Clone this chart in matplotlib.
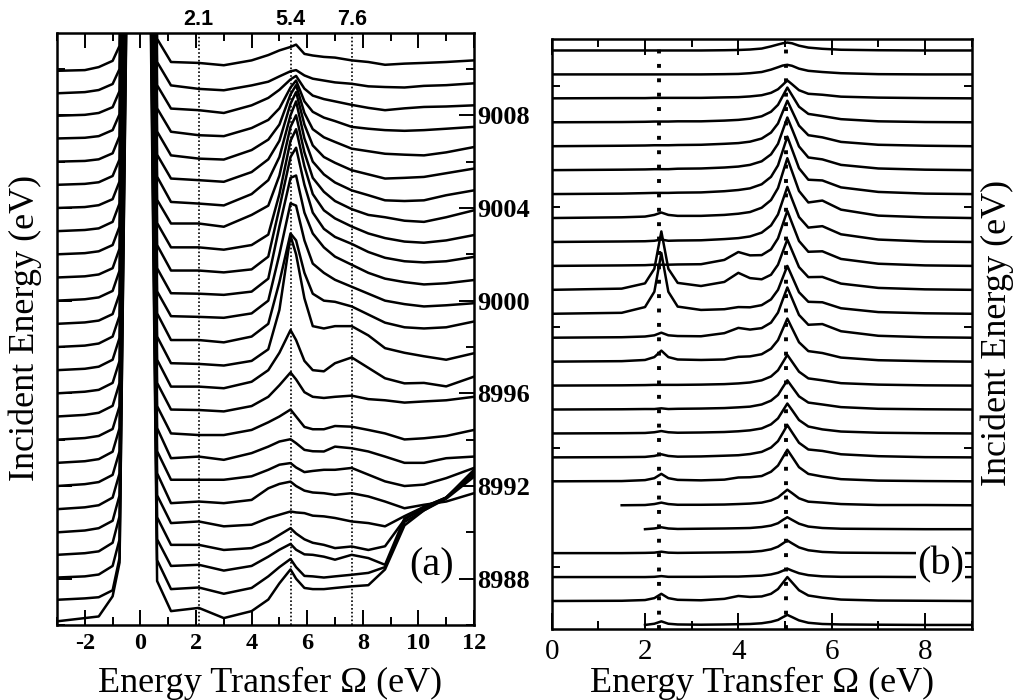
import numpy as np
import matplotlib
matplotlib.use('Agg')
import matplotlib.pyplot as plt
from matplotlib.ticker import MultipleLocator, FixedLocator

nan = np.nan

# incident energies, bottom spectrum first
incident_energy = [8986, 8987, 8988, 8989, 8990, 8991, 8992, 8993, 8994, 8995, 8996, 8997, 8998,
                   8999, 9000, 9001, 9002, 9003, 9004, 9005, 9006, 9007, 9008, 9009, 9010]

# (a) measured spectra, intensity in units of the 1 eV offset
omega_exp = [-3.0, -2.0, -1.5, -1.0, -0.75, -0.15, 0.05, 0.6, 1.1, 2.1, 3.0, 4.0, 4.6, 5.0, 5.4,
             5.6, 5.9, 6.2, 6.6, 7.0, 7.6, 8.2, 8.8, 9.5, 10.2, 11.0, 12.0]
rixs_exp = [
    [0.16, 0.3, 0.37, 1.24, 2.7, 60, 60, 1.9, 0.6, 0.74, 0.3, 0.6, 1.1, 1.8, 2.4, 2.0, 1.6, 1.55, 1.55, 1.6, 1.67, 1.72, 2.4, 4.3, 4.95, 5.5, 6.45],
    [0.09, 0.15, 0.2, 0.5, 1.9, 60, 60, 1.8, 0.55, 0.62, 0.35, 0.6, 1.1, 1.5, 1.85, 1.5, 1.12, 1.1, 1.05, 1.1, 1.17, 1.25, 1.5, 3.45, 3.95, 4.45, 5.4],
    [0.05, 0.1, 0.18, 0.55, 1.7, 60, 60, 1.7, 0.55, 0.6, 0.35, 0.55, 0.95, 1.25, 1.5, 1.25, 1.05, 1.03, 0.95, 0.82, 1.03, 0.89, 0.6, 2.6, 3.0, 3.5, 4.55],
    [0.03, 0.1, 0.18, 0.55, 1.7, 60, 60, 1.65, 0.46, 0.46, 0.24, 0.32, 0.6, 0.89, 1.18, 0.95, 0.7, 0.55, 0.46, 0.32, 0.39, 0.24, 0.4, 1.55, 2.1, 2.5, 3.6],
    [0.0, 0.08, 0.18, 0.5, 1.6, 60, 60, 1.6, 0.4, 0.47, 0.26, 0.33, 0.62, 0.76, 0.9, 0.86, 0.83, 0.72, 0.69, 0.62, 0.47, 0.4, 0.26, 0.7, 1.1, 1.5, 2.7],
    [0.0, 0.08, 0.17, 0.5, 1.55, 60, 60, 1.55, 0.26, 0.33, 0.26, 0.4, 0.9, 1.09, 1.19, 1.0, 0.8, 0.72, 0.69, 0.62, 0.69, 0.55, 0.33, 0.04, 0.19, 0.33, 0.69],
    [0.0, 0.08, 0.17, 0.48, 1.5, 60, 60, 1.5, 0.27, 0.27, 0.27, 0.42, 0.7, 0.92, 0.99, 0.8, 0.6, 0.65, 0.7, 0.7, 0.78, 0.49, 0.2, 0.0, 0.06, 0.34, 0.78],
    [0.0, 0.07, 0.16, 0.48, 1.5, 60, 60, 1.5, 0.2, 0.27, 0.13, 0.42, 0.7, 0.92, 1.02, 0.85, 0.56, 0.5, 0.49, 0.7, 0.63, 0.49, 0.27, 0.0, 0.0, 0.2, 0.27],
    [0.0, 0.07, 0.16, 0.46, 1.45, 60, 60, 1.45, 0.27, 0.2, 0.2, 0.42, 0.75, 1.0, 1.3, 1.0, 0.55, 0.45, 0.45, 0.59, 0.56, 0.42, 0.27, 0.01, 0.06, 0.16, 0.42],
    [0.0, 0.07, 0.16, 0.46, 1.45, 60, 60, 1.45, 0.3, 0.28, 0.22, 0.45, 0.85, 1.35, 1.9, 1.6, 1.05, 0.85, 0.8, 0.85, 0.9, 0.75, 0.7, 0.6, 0.65, 0.7, 0.85],
    [0.0, 0.07, 0.15, 0.45, 1.4, 60, 60, 1.45, 0.29, 0.29, 0.22, 0.5, 1.0, 1.75, 2.73, 2.3, 1.4, 1.0, 0.95, 1.3, 1.55, 1.1, 0.65, 0.43, 0.45, 0.3, 0.72],
    [0.0, 0.06, 0.15, 0.45, 1.4, 60, 60, 1.45, 0.3, 0.27, 0.2, 0.4, 0.9, 2.6, 5.8, 5.0, 3.1, 1.9, 1.8, 1.9, 1.9, 1.5, 0.95, 0.75, 0.6, 0.45, 0.73],
    [0.0, 0.06, 0.15, 0.45, 1.35, 60, 60, 1.45, 0.3, 0.3, 0.2, 0.45, 1.0, 2.8, 4.9, 4.6, 3.2, 2.3, 2.0, 1.95, 1.75, 1.4, 1.05, 0.85, 0.8, 0.85, 1.1],
    [0.0, 0.06, 0.14, 0.42, 1.3, 60, 60, 1.4, 0.33, 0.3, 0.26, 0.45, 1.0, 3.0, 5.2, 5.1, 3.6, 2.6, 2.2, 1.9, 1.6, 1.3, 1.0, 0.85, 0.75, 0.8, 0.89],
    [0.0, 0.06, 0.14, 0.42, 1.3, 60, 60, 1.4, 0.32, 0.3, 0.25, 0.39, 0.95, 3.2, 5.3, 5.4, 3.8, 2.9, 2.3, 1.9, 1.55, 1.2, 0.95, 0.8, 0.7, 0.75, 0.89],
    [0.0, 0.05, 0.13, 0.4, 1.25, 60, 60, 1.4, 0.3, 0.3, 0.22, 0.35, 0.9, 3.0, 5.2, 5.6, 4.0, 2.8, 2.1, 1.75, 1.45, 1.1, 0.85, 0.7, 0.65, 0.7, 0.89],
    [0.0, 0.05, 0.13, 0.4, 1.2, 60, 60, 1.35, 0.3, 0.3, 0.2, 0.4, 0.85, 2.6, 4.9, 5.4, 3.8, 2.6, 1.9, 1.55, 1.2, 0.9, 0.7, 0.55, 0.5, 0.6, 0.83],
    [0.0, 0.05, 0.12, 0.4, 1.2, 60, 60, 1.35, 0.33, 0.33, 0.19, 0.7, 1.1, 2.4, 4.5, 5.0, 3.4, 2.3, 1.7, 1.3, 0.95, 0.7, 0.6, 0.45, 0.4, 0.6, 0.9],
    [0.0, 0.04, 0.12, 0.38, 1.15, 60, 60, 1.35, 0.26, 0.19, 0.11, 0.6, 1.2, 2.2, 4.0, 4.6, 3.0, 2.0, 1.45, 1.1, 0.76, 0.55, 0.33, 0.3, 0.33, 0.55, 0.76],
    [0.0, 0.04, 0.11, 0.38, 1.1, 60, 60, 1.3, 0.27, 0.2, 0.13, 0.55, 1.1, 1.9, 3.5, 4.0, 2.6, 1.7, 1.2, 0.95, 0.63, 0.45, 0.27, 0.3, 0.34, 0.5, 0.7],
    [0.0, 0.03, 0.1, 0.36, 1.1, 60, 60, 1.3, 0.27, 0.13, 0.09, 0.5, 0.95, 1.6, 2.9, 3.3, 2.1, 1.4, 1.05, 0.85, 0.56, 0.45, 0.34, 0.3, 0.27, 0.4, 0.63],
    [0.0, 0.03, 0.1, 0.36, 1.05, 60, 60, 1.3, 0.29, 0.14, 0.1, 0.45, 0.8, 1.3, 2.2, 2.5, 1.6, 1.15, 0.9, 0.75, 0.5, 0.42, 0.36, 0.33, 0.36, 0.42, 0.5],
    [-0.02, 0.02, 0.1, 0.35, 1.05, 60, 60, 1.3, 0.29, 0.22, 0.1, 0.43, 0.75, 1.1, 1.55, 1.7, 1.15, 0.85, 0.7, 0.6, 0.45, 0.32, 0.22, 0.3, 0.36, 0.38, 0.43],
    [-0.05, 0.0, 0.09, 0.35, 1.0, 60, 60, 1.3, 0.29, 0.14, 0.08, 0.29, 0.45, 0.68, 0.9, 0.95, 0.72, 0.58, 0.5, 0.42, 0.36, 0.25, 0.22, 0.2, 0.27, 0.3, 0.38],
    [-0.08, -0.05, 0.08, 0.35, 1.0, 60, 60, 1.3, 0.3, 0.26, 0.16, 0.37, 0.6, 0.8, 0.95, 1.05, 0.65, 0.58, 0.52, 0.49, 0.37, 0.3, 0.18, 0.23, 0.26, 0.3, 0.37],
]
exp_marks = [2.1, 5.4, 7.6]
exp_mark_labels = ['2.1', '5.4', '7.6']

# (b) calculated spectra
omega_calc = [0.0, 1.5, 2.0, 2.2, 2.35, 2.5, 2.7, 3.2, 3.7, 4.0, 4.25, 4.5, 4.7, 4.85, 4.95, 5.05,
              5.15, 5.3, 5.5, 5.8, 6.2, 7.0, 8.0, 9.0]
rixs_calc = [
    [nan, nan, 0.0, 0.05, 0.15, 0.05, 0.02, 0.01, 0.02, 0.03, 0.04, 0.07, 0.13, 0.21, 0.32, 0.42, 0.33, 0.19, 0.09, 0.04, 0.02, 0.01, 0.0, 0.0],
    [0.0, 0.01, 0.04, 0.12, 0.3, 0.12, 0.05, 0.03, 0.09, 0.21, 0.17, 0.19, 0.3, 0.5, 0.75, 1.0, 0.78, 0.45, 0.23, 0.14, 0.06, 0.02, 0.01, 0.0],
    [0.0, 0.0, 0.0, 0.01, 0.04, 0.01, 0.01, 0.01, 0.02, 0.02, 0.04, 0.06, 0.11, 0.18, 0.26, 0.35, 0.27, 0.16, 0.08, 0.03, 0.01, 0.01, 0.0, 0.0],
    [0.0, 0.0, 0.01, 0.02, 0.06, 0.02, 0.01, 0.02, 0.03, 0.04, 0.05, 0.09, 0.16, 0.27, 0.4, 0.53, 0.41, 0.24, 0.12, 0.05, 0.02, 0.01, 0.0, 0.0],
    [nan, nan, 0.0, 0.03, 0.08, 0.03, 0.01, 0.02, 0.03, 0.04, 0.05, 0.09, 0.15, 0.25, 0.38, 0.5, 0.39, 0.23, 0.11, 0.05, 0.02, 0.01, 0.0, 0.0],
    [nan, 0.0, 0.01, 0.05, 0.11, 0.05, 0.02, 0.02, 0.03, 0.05, 0.07, 0.11, 0.2, 0.33, 0.49, 0.65, 0.51, 0.29, 0.15, 0.11, 0.05, 0.01, 0.01, 0.0],
    [0.0, 0.01, 0.05, 0.13, 0.31, 0.13, 0.06, 0.04, 0.07, 0.16, 0.17, 0.22, 0.4, 0.66, 0.99, 1.32, 1.03, 0.59, 0.31, 0.2, 0.09, 0.03, 0.01, 0.0],
    [0.0, 0.01, 0.02, 0.06, 0.13, 0.06, 0.03, 0.04, 0.07, 0.09, 0.14, 0.23, 0.41, 0.68, 1.01, 1.35, 1.05, 0.61, 0.33, 0.27, 0.13, 0.05, 0.01, 0.0],
    [0.0, 0.01, 0.02, 0.05, 0.1, 0.05, 0.03, 0.04, 0.06, 0.09, 0.13, 0.21, 0.38, 0.63, 0.94, 1.25, 0.98, 0.56, 0.29, 0.17, 0.08, 0.03, 0.01, 0.0],
    [0.0, 0.01, 0.02, 0.02, 0.05, 0.02, 0.03, 0.04, 0.06, 0.09, 0.12, 0.21, 0.37, 0.61, 0.92, 1.22, 0.95, 0.55, 0.29, 0.21, 0.1, 0.03, 0.01, 0.0],
    [0.0, 0.01, 0.02, 0.03, 0.03, 0.03, 0.03, 0.04, 0.06, 0.09, 0.13, 0.22, 0.38, 0.64, 0.96, 1.28, 1.0, 0.58, 0.3, 0.22, 0.1, 0.04, 0.01, 0.0],
    [0.0, 0.02, 0.07, 0.19, 0.46, 0.19, 0.09, 0.07, 0.09, 0.2, 0.22, 0.31, 0.54, 0.9, 1.35, 1.8, 1.4, 0.81, 0.44, 0.36, 0.17, 0.06, 0.02, 0.0],
    [0.0, 0.02, 0.05, 0.1, 0.21, 0.1, 0.07, 0.06, 0.19, 0.41, 0.34, 0.4, 0.63, 1.05, 1.58, 2.1, 1.64, 0.95, 0.54, 0.57, 0.27, 0.08, 0.02, 0.0],
    [0.0, 0.04, 0.28, 0.92, 2.54, 0.92, 0.3, 0.16, 0.19, 0.28, 0.27, 0.36, 0.6, 1.0, 1.5, 2.0, 1.56, 0.9, 0.5, 0.48, 0.23, 0.07, 0.02, 0.0],
    [0.0, 0.05, 0.27, 0.88, 2.44, 0.88, 0.29, 0.16, 0.33, 0.71, 0.49, 0.44, 0.63, 1.05, 1.58, 2.1, 1.64, 0.95, 0.53, 0.54, 0.26, 0.08, 0.02, 0.0],
    [0.0, 0.02, 0.03, 0.05, 0.05, 0.05, 0.06, 0.07, 0.25, 0.58, 0.44, 0.45, 0.69, 1.15, 1.73, 2.3, 1.79, 1.04, 0.59, 0.61, 0.29, 0.09, 0.02, 0.0],
    [0.0, 0.02, 0.03, 0.05, 0.1, 0.05, 0.06, 0.07, 0.12, 0.16, 0.23, 0.39, 0.69, 1.15, 1.73, 2.3, 1.79, 1.04, 0.6, 0.66, 0.32, 0.1, 0.02, 0.0],
    [0.0, 0.03, 0.06, 0.13, 0.23, 0.13, 0.09, 0.09, 0.13, 0.18, 0.25, 0.43, 0.75, 1.25, 1.88, 2.5, 1.95, 1.13, 0.65, 0.73, 0.35, 0.1, 0.03, 0.0],
    [0.0, 0.02, 0.04, 0.05, 0.05, 0.05, 0.06, 0.07, 0.12, 0.17, 0.24, 0.41, 0.72, 1.2, 1.8, 2.4, 1.87, 1.08, 0.6, 0.57, 0.28, 0.09, 0.02, 0.0],
    [0.0, 0.02, 0.03, 0.04, 0.04, 0.04, 0.06, 0.07, 0.11, 0.15, 0.22, 0.37, 0.66, 1.1, 1.65, 2.2, 1.72, 0.99, 0.53, 0.45, 0.22, 0.07, 0.02, 0.0],
    [0.0, 0.02, 0.03, 0.04, 0.04, 0.04, 0.05, 0.06, 0.1, 0.13, 0.19, 0.32, 0.57, 0.95, 1.43, 1.9, 1.48, 0.86, 0.46, 0.37, 0.18, 0.06, 0.02, 0.0],
    [0.0, 0.01, 0.02, 0.03, 0.03, 0.03, 0.04, 0.04, 0.07, 0.1, 0.15, 0.25, 0.44, 0.73, 1.09, 1.45, 1.13, 0.65, 0.35, 0.26, 0.13, 0.04, 0.01, 0.0],
    [0.0, 0.01, 0.01, 0.02, 0.02, 0.02, 0.02, 0.02, 0.04, 0.05, 0.08, 0.13, 0.23, 0.38, 0.56, 0.75, 0.59, 0.34, 0.19, 0.15, 0.07, 0.03, 0.01, 0.0],
    [0.0, 0.0, 0.0, 0.0, 0.0, 0.0, 0.0, 0.0, 0.01, 0.02, 0.05, 0.1, 0.2, 0.3, 0.37, 0.4, 0.36, 0.24, 0.15, 0.1, 0.05, 0.01, 0.0, 0.0],
    [0.0, 0.0, 0.0, 0.0, 0.0, 0.0, 0.0, 0.0, 0.01, 0.02, 0.04, 0.08, 0.17, 0.25, 0.3, 0.33, 0.3, 0.2, 0.12, 0.07, 0.03, 0.01, 0.0, 0.0],
]
calc_marks = [2.3, 5.02]

plt.rcParams['font.family'] = ['Liberation Serif', 'DejaVu Serif']
plt.rcParams['axes.unicode_minus'] = False

fig = plt.figure(figsize=(10.13, 7.0), dpi=100)
ax1 = fig.add_axes([0.0563, 0.1071, 0.4116, 0.8457])
ax2 = fig.add_axes([0.5446, 0.1021, 0.4146, 0.8429])

# ---- panel (a)
for e, row in zip(incident_energy, rixs_exp):
    ax1.plot(omega_exp, e + np.asarray(row), color='black', lw=1.8)
for x in exp_marks:
    ax1.axvline(x, color='black', lw=1.2, ls=(0, (1, 1.3)))
for x, s in zip(exp_marks, exp_mark_labels):
    ax1.annotate(s, xy=(x, 1.0), xycoords=('data', 'axes fraction'), xytext=(0, 9.5),
                 textcoords='offset points', ha='center', va='center',
                 family='Liberation Sans', fontweight='bold', fontsize=15.5)

ax1.set_xlim(-3, 12)
ax1.set_ylim(8986.0, 9011.55)
xt = [-2, 0, 2, 4, 6, 8, 10, 12]
ax1.set_xticks(xt)
ax1.set_xticklabels([str(v) for v in xt], fontweight='bold', fontsize=17.5)
ax1.xaxis.set_minor_locator(MultipleLocator(1))
yt = [8988, 8992, 8996, 9000, 9004, 9008]
ax1.set_yticks(yt)
ax1.set_yticklabels([str(v) for v in yt], fontweight='bold', fontsize=19)
ax1.yaxis.set_minor_locator(MultipleLocator(2))
ax1.tick_params(which='both', direction='in', top=True, right=True, width=1.4)
ax1.tick_params(which='major', length=10.5)
ax1.tick_params(which='minor', length=5.5)
ax1.tick_params(axis='x', pad=6)
ax1.tick_params(axis='y', labelleft=False, labelright=True, pad=2.5)
ax1.text(0.8985, 0.0997, '(a)', transform=ax1.transAxes, ha='center', va='center',
         fontsize=29, bbox=dict(facecolor='white', edgecolor='none', pad=0.5))

# ---- panel (b)
for e, row in zip(incident_energy, rixs_calc):
    ax2.plot(omega_calc, e + np.asarray(row), color='black', lw=1.8)
for x in calc_marks:
    ax2.axvline(x, color='black', lw=2.8, ls=(0, (1, 2.7)))

ax2.set_xlim(0, 9)
ax2.set_ylim(8985.85, 9010.5)
ax2.xaxis.set_major_locator(MultipleLocator(2))
ax2.xaxis.set_minor_locator(MultipleLocator(1))
ax2.yaxis.set_major_locator(FixedLocator([8988.4, 8993.4, 8998.45, 9003.47, 9008.5]))
ax2.tick_params(which='both', direction='in', top=True, right=True, width=1.4)
ax2.tick_params(axis='x', which='major', length=11.5, labelsize=21, pad=7.5)
ax2.tick_params(axis='x', which='minor', length=5.5)
ax2.tick_params(axis='y', length=5.5, labelleft=False)
ax2.text(0.9264, 0.1076, '(b)', transform=ax2.transAxes, ha='center', va='center',
         fontsize=29, zorder=5,
         bbox=dict(facecolor='white', edgecolor='none', pad=0.5))

for ax in (ax1, ax2):
    for sp in ax.spines.values():
        sp.set_linewidth(1.8)

fig.text(0.2665, 0.0236, 'Energy Transfer \u03a9 (eV)', ha='center', va='center', fontsize=26)
fig.text(0.7519, 0.0236, 'Energy Transfer \u03a9 (eV)', ha='center', va='center', fontsize=26)
fig.text(0.0247, 0.5314, 'Incident Energy (eV)', ha='center', va='center', rotation=90, fontsize=26)
fig.text(0.9842, 0.5243, 'Incident Energy (eV)', ha='center', va='center', rotation=90, fontsize=26)

fig.savefig('out.png', dpi=100)
